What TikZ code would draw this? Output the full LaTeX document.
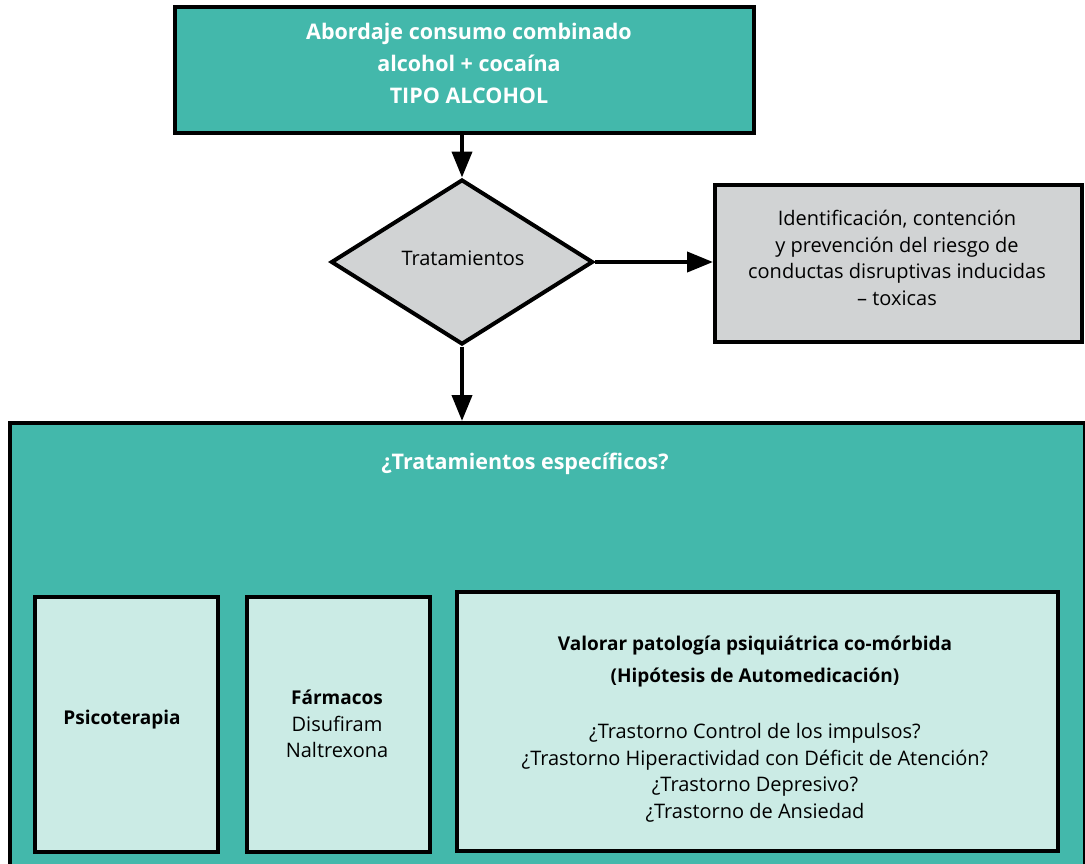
\documentclass[tikz,border=0pt]{standalone}
\usepackage{fontspec}
\setmainfont{Open Sans}
\usetikzlibrary{shapes.geometric,arrows.meta}
\definecolor{tealbox}{HTML}{43B8AB}
\definecolor{lighttealbox}{HTML}{CBEBE5}
\definecolor{greybox}{HTML}{D1D3D4}
\tikzset{
  boxline/.style={draw=black,line width=4pt},
  flowarrow/.style={line width=4pt,-{Triangle[length=26pt,width=20pt]}},
  txt/.style={font=\fontsize{20pt}{26.5pt}\selectfont,align=center,text=black},
  boldtxt/.style={txt,font=\bfseries\fontsize{19pt}{26.5pt}\selectfont},
  headtxt/.style={txt,text=white,font=\bfseries\fontsize{21.5pt}{32pt}\selectfont},
}
\begin{document}
\begin{tikzpicture}[x=1pt,y=-1pt]
\useasboundingbox (0,0) rectangle (1085,863);
% outer container of the specific treatments
\node[boxline,fill=tealbox,anchor=north west,minimum width=1075pt,minimum height=500pt,inner sep=0] (spec) at (8,421) {};
\node[headtxt] (spect) at (525,464) {¿Tratamientos específicos?};
% header box
\node[boxline,fill=tealbox,anchor=north west,minimum width=579pt,minimum height=126pt,inner sep=0] (top) at (173,5) {};
\node[headtxt] (topt) at (469,63) {Abordaje consumo combinado\\alcohol + cocaína\\TIPO ALCOHOL};
% decision
\node[boxline,fill=greybox,diamond,minimum width=262pt,minimum height=165pt,inner sep=0] (dec) at (462,262) {};
\node[txt] (dect) at (463,258) {Tratamientos};
% side box
\node[boxline,fill=greybox,anchor=north west,minimum width=367pt,minimum height=157pt,inner sep=0] (side) at (713,183) {};
\node[txt] (sidet) at (897,258) {Identificación, contención\\y prevención del riesgo de\\conductas disruptivas inducidas\\– toxicas};
% inner boxes
\node[boxline,fill=lighttealbox,anchor=north west,minimum width=183pt,minimum height=255pt,inner sep=0] (psi) at (33,595) {};
\node[boldtxt] (psit) at (122,720) {Psicoterapia};
\node[boxline,fill=lighttealbox,anchor=north west,minimum width=183pt,minimum height=255pt,inner sep=0] (far) at (245,595) {};
\node[txt] (fart) at (337,724) {{\bfseries\fontsize{19pt}{26.5pt}\selectfont Fármacos}\\Disufiram\\Naltrexona};
\node[boxline,fill=lighttealbox,anchor=north west,minimum width=601pt,minimum height=259pt,inner sep=0] (val) at (455,590) {};
\node[boldtxt,font=\bfseries\fontsize{19pt}{32pt}\selectfont] (valt) at (755,661) {Valorar patología psiquiátrica co-mórbida\\(Hipótesis de Automedicación)};
\node[txt] (valq) at (755,773) {¿Trastorno Control de los impulsos?\\¿Trastorno Hiperactividad con Déficit de Atención?\\¿Trastorno Depresivo?\\¿Trastorno de Ansiedad};
% connectors
\draw[flowarrow] (top.south -| dec.north) -- (dec.north);
\draw[flowarrow] (dec.east) -- (side.west |- dec.east);
\draw[flowarrow] (dec.south) -- (spec.north -| dec.south);
\end{tikzpicture}
\end{document}
